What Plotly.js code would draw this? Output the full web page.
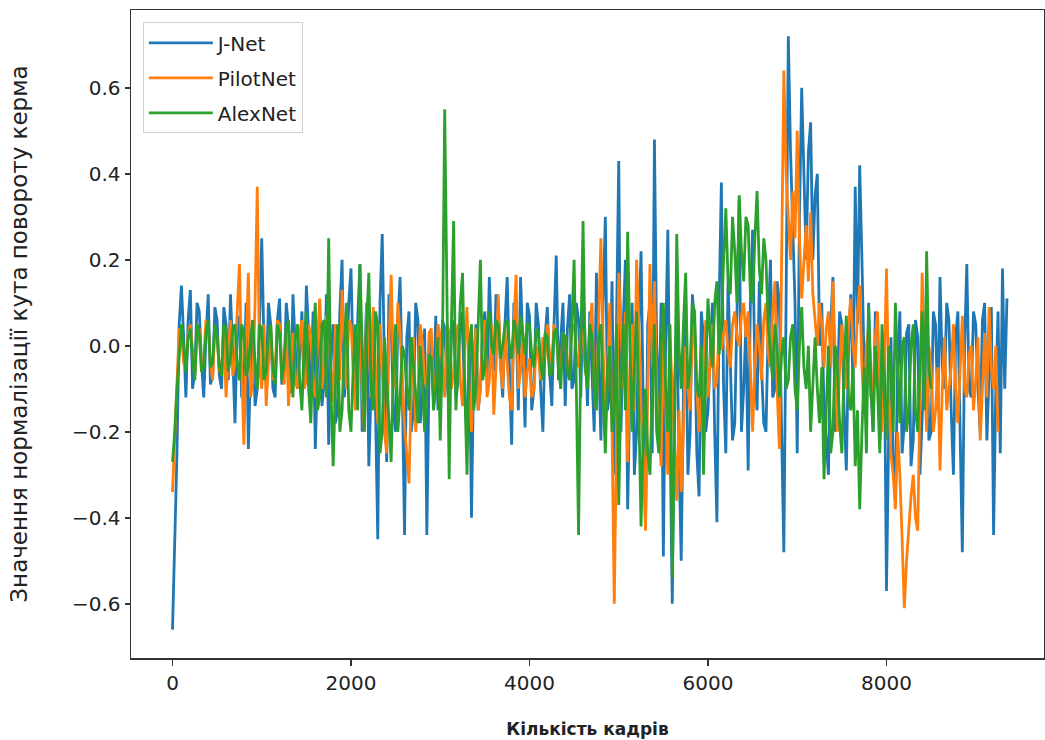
<!DOCTYPE html>
<html>
<head>
<meta charset="utf-8">
<script src="https://cdn.plot.ly/plotly-3.0.1.min.js"></script>
<style>html,body{margin:0;padding:0;background:#fff;}#chart{width:1045px;height:740px;}</style>
</head>
<body>
<div id="chart"></div>
<script>
// Samples every 50 frames, plus the in-between samples (offset 25 frames)
const STEP = 50;

const seriesNames = ["J-Net", "PilotNet", "AlexNet"];

const jnet = [
-0.66,-0.25,0.14,-0.12,0.13,-0.06,0.08,-0.12,0.12,-0.07,
0.06,-0.1,0.05,0.12,-0.18,0.07,-0.09,-0.24,0.06,-0.1,
0.25,-0.08,0.05,-0.12,0.11,-0.06,0.04,0.12,-0.1,0.08,
0.14,-0.12,-0.24,0.1,-0.08,-0.23,0.05,-0.15,0.2,-0.05,
0.18,-0.12,0.19,-0.05,-0.28,0.08,-0.45,0.26,-0.27,0.05,
-0.2,0.16,-0.44,0.08,-0.15,0.06,-0.12,-0.44,0.02,0.07,
-0.1,0.04,-0.14,0.06,-0.08,0.03,-0.2,-0.4,0.05,-0.1,
0.08,0.16,-0.06,0.1,-0.12,0.16,-0.23,0.06,0.16,-0.19,
0.07,-0.1,0.05,-0.2,0.09,-0.14,0.21,0.02,-0.14,0.12,
-0.08,0.06,0.14,-0.14,-0.05,0.17,-0.22,0.3,-0.1,-0.3,
0.43,0.05,-0.38,0.1,-0.2,0.22,-0.42,0.1,0.48,-0.15,
-0.49,0.27,-0.6,0.05,-0.5,0.1,-0.2,0.05,-0.35,0.02,
-0.15,0.1,-0.41,0.38,-0.25,-0.05,-0.18,0.34,-0.1,-0.29,
0.27,-0.15,-0.05,-0.2,0.2,-0.1,0.1,-0.48,0.72,0.3,
-0.25,0.6,0.2,0.52,0.35,0.0,-0.15,-0.3,0.16,-0.1,
0.05,-0.29,0.12,0.37,0.42,-0.05,0.1,-0.2,0.05,-0.15,
-0.57,0.02,-0.36,0.08,-0.18,0.05,-0.22,0.02,-0.15,0.1,
-0.2,0.05,0.16,-0.1,0.06,-0.3,0.08,-0.48,0.19,-0.12,
0.05,-0.2,0.1,-0.05,-0.44,0.08,0.18,0.11
];
const jnetMid = [
-0.45,0.05,0.02,0.06,-0.1,0.1,-0.04,0.02,-0.09,0.09,
-0.07,0.09,-0.08,-0.02,0.03,-0.12,0.1,-0.05,-0.14,0.05,
0.0,0.1,-0.1,0.06,-0.09,0.1,-0.11,0.0,-0.02,-0.1,
0.03,0.08,-0.05,-0.14,0.12,-0.02,-0.18,0.08,-0.12,0.1,
-0.05,0.06,-0.2,0.1,-0.1,-0.15,0.1,-0.05,0.12,-0.15,
0.05,-0.1,0.02,-0.2,0.1,-0.18,0.04,-0.05,-0.12,-0.15,
0.06,-0.08,0.05,-0.12,0.08,-0.12,0.02,-0.05,-0.15,0.04,
-0.08,0.02,0.12,-0.04,0.05,-0.05,0.1,-0.15,0.0,0.1,
-0.15,0.1,-0.1,0.02,-0.06,0.05,-0.08,0.1,0.04,-0.1,
0.1,-0.12,-0.02,0.08,-0.2,0.0,0.1,-0.15,0.15,0.05,
-0.2,0.2,-0.1,-0.3,0.05,-0.15,0.05,-0.25,0.0,0.1,
0.0,-0.2,-0.1,-0.25,-0.1,-0.3,0.12,-0.25,0.08,-0.2,
-0.02,-0.2,0.1,-0.1,0.15,-0.22,0.1,-0.2,0.05,0.1,
-0.05,0.15,-0.18,0.05,-0.12,0.15,-0.2,0.1,0.45,0.1,
0.3,0.4,0.45,0.2,0.4,0.1,-0.22,0.05,-0.2,0.08,
-0.15,0.0,-0.1,0.05,0.2,-0.15,-0.08,0.08,-0.22,0.03,
-0.2,-0.25,-0.05,-0.25,0.03,-0.28,0.06,-0.3,-0.05,-0.22,
0.08,-0.15,-0.05,0.1,-0.15,0.02,-0.2,0.0,-0.1,0.08,
-0.1,0.06,-0.22,0.09,-0.1,-0.25,-0.1
];

const pilotnet = [
-0.34,-0.06,0.03,-0.05,0.05,-0.07,0.04,-0.03,0.05,-0.08,
0.02,-0.05,-0.12,0.06,-0.04,0.19,-0.23,0.17,-0.08,0.37,
-0.1,-0.14,0.04,-0.06,0.05,-0.09,-0.14,0.03,-0.1,0.06,
-0.08,0.02,-0.12,0.11,-0.05,0.04,-0.13,0.02,0.13,-0.1,
0.05,-0.15,0.08,-0.2,0.02,0.09,-0.18,-0.05,-0.25,0.165,
-0.1,0.03,-0.19,-0.32,0.02,-0.12,0.01,-0.1,0.04,-0.08,
0.02,-0.12,0.03,-0.06,0.05,-0.14,0.09,-0.2,0.04,-0.1,
0.06,-0.08,-0.16,0.12,-0.1,-0.04,-0.15,0.165,-0.06,-0.12,
-0.03,-0.1,-0.02,0.02,0.05,-0.04,0.03,-0.06,0.02,-0.03,
0.05,-0.05,0.02,-0.08,0.1,-0.15,0.25,-0.2,0.1,-0.6,
0.17,-0.1,-0.27,0.05,0.2,-0.15,-0.43,0.19,0.15,-0.2,
0.05,-0.3,-0.1,-0.36,-0.34,0.0,-0.15,0.04,-0.2,-0.05,
-0.12,0.05,-0.08,-0.01,0.06,-0.05,0.08,0.0,0.1,0.08,
-0.2,0.05,-0.08,0.1,-0.05,0.15,-0.24,0.64,0.3,0.36,
0.5,0.11,0.28,0.31,0.05,0.1,-0.05,0.08,0.15,-0.2,
0.05,-0.1,0.11,-0.05,0.14,-0.15,0.04,-0.1,0.08,-0.2,
0.18,-0.25,-0.38,-0.3,-0.61,-0.42,-0.3,-0.43,0.17,-0.2,
-0.05,-0.15,-0.29,0.02,-0.1,0.05,-0.18,0.07,-0.12,0.0,
-0.08,-0.22,0.03,0.09,-0.1,-0.2
];
const pilotnetMid = [
-0.2,0.04,-0.04,0.03,-0.02,0.02,-0.06,0.06,-0.04,0.04,
-0.06,0.04,-0.02,-0.07,0.08,-0.05,0.0,-0.12,0.1,-0.05,
0.05,-0.04,-0.08,0.06,-0.05,0.04,-0.05,-0.08,0.03,-0.1,
0.05,-0.08,0.0,-0.1,0.07,-0.06,0.05,-0.08,0.0,0.06,
-0.05,0.02,-0.1,0.1,-0.12,-0.05,0.05,-0.2,0.0,-0.05,
0.1,-0.08,-0.25,-0.1,-0.2,0.05,-0.08,0.03,-0.12,0.05,
-0.05,0.05,-0.1,0.02,-0.08,0.0,-0.1,-0.05,-0.15,0.02,
-0.12,0.05,-0.05,-0.05,0.04,-0.12,0.05,-0.1,0.03,-0.06,
-0.12,0.0,-0.08,-0.03,-0.02,0.05,-0.05,0.03,-0.06,0.04,
-0.02,0.04,-0.06,0.04,-0.1,0.08,0.0,-0.05,-0.2,-0.2,
0.05,0.08,-0.05,-0.15,0.05,-0.25,-0.1,-0.05,-0.1,-0.28,
-0.12,0.02,-0.25,-0.15,-0.2,-0.1,0.05,-0.1,-0.12,0.06,
-0.04,-0.1,0.05,0.03,-0.02,0.05,0.02,0.07,0.02,-0.05,
-0.05,0.0,0.06,-0.02,0.08,-0.1,0.2,0.4,0.2,0.25,
0.25,0.2,0.15,0.12,0.0,0.05,0.04,-0.05,0.0,-0.05,
-0.05,0.05,0.0,0.08,-0.05,0.0,-0.12,0.02,-0.1,-0.05,
-0.1,-0.3,-0.2,-0.45,-0.5,-0.35,-0.4,-0.1,-0.05,0.0,
-0.2,-0.05,-0.1,-0.15,-0.05,-0.1,-0.05,-0.1,-0.02,-0.15,
0.02,-0.1,-0.12,-0.05,0.0
];

const alexnet = [
-0.27,-0.1,0.05,-0.06,0.04,-0.08,0.03,-0.05,0.06,-0.04,
0.02,-0.07,0.04,-0.03,0.05,-0.08,0.03,-0.05,0.06,-0.1,
0.04,-0.06,0.05,-0.09,0.03,-0.04,0.06,-0.12,0.05,-0.15,
0.08,-0.18,0.1,-0.12,0.06,0.25,-0.28,0.05,-0.15,0.1,
-0.2,0.05,0.19,-0.2,0.17,-0.15,0.05,-0.2,-0.08,-0.27,
0.05,-0.12,-0.02,-0.15,-0.05,-0.18,-0.08,-0.12,-0.03,-0.1,
-0.22,0.55,-0.31,0.29,-0.05,0.17,-0.3,0.05,-0.1,0.2,
-0.05,0.08,-0.02,0.05,0.0,0.06,-0.03,0.04,0.07,-0.02,
0.05,-0.05,0.03,-0.08,0.02,-0.06,0.04,-0.1,0.02,-0.08,
0.2,-0.44,0.29,-0.1,0.02,-0.15,0.05,-0.25,0.0,-0.15,
-0.37,0.05,0.265,-0.2,0.08,-0.42,-0.1,-0.3,0.05,-0.25,
0.1,-0.2,-0.54,0.26,-0.1,0.17,-0.05,0.08,-0.12,-0.3,
0.11,-0.05,0.15,0.05,0.32,0.12,0.22,0.35,0.15,0.28,
0.1,0.36,0.12,0.2,-0.02,0.05,-0.12,0.02,-0.08,0.05,
-0.15,0.09,-0.1,-0.2,0.02,-0.18,-0.31,0.0,-0.2,-0.05,
-0.25,0.07,-0.15,-0.28,-0.38,-0.05,0.09,-0.2,-0.1,0.05,
-0.22,-0.05,0.1,-0.18,0.02,-0.15,0.05,-0.2,0.08,0.22,
-0.1
];
const alexnetMid = [
-0.2,-0.03,0.0,0.02,-0.03,0.05,-0.06,0.03,-0.05,0.05,
-0.05,0.05,-0.06,0.04,-0.04,0.05,-0.07,0.02,-0.04,0.05,
-0.08,0.03,-0.05,0.05,-0.08,0.04,-0.05,0.02,-0.08,0.0,
-0.1,0.0,-0.15,0.05,-0.12,-0.1,-0.1,-0.2,0.0,-0.15,
-0.05,-0.15,0.0,0.05,-0.1,0.08,-0.25,0.02,-0.18,-0.05,
-0.2,0.0,-0.1,0.02,-0.12,0.0,-0.2,-0.02,-0.15,0.02,
0.0,0.1,0.05,-0.15,0.1,-0.1,0.0,-0.15,0.05,-0.08,
0.05,0.0,0.06,-0.03,0.05,0.0,0.06,-0.02,0.03,0.05,
-0.02,0.04,-0.04,0.03,-0.07,0.03,-0.05,0.03,-0.06,0.05,
-0.1,0.0,-0.05,0.05,-0.1,0.02,-0.12,-0.05,-0.2,0.05,
-0.1,-0.15,0.0,-0.05,-0.15,-0.2,-0.25,-0.1,-0.2,0.0,
-0.1,0.05,-0.2,0.0,0.05,-0.1,0.1,-0.1,0.0,-0.05,
0.02,0.1,-0.02,0.2,0.15,0.3,0.1,0.22,0.3,0.12,
0.25,0.18,0.25,0.05,-0.08,0.0,-0.02,-0.1,0.02,-0.1,
0.0,-0.05,0.0,-0.08,-0.1,-0.05,-0.15,-0.25,0.0,-0.18,
-0.05,-0.12,-0.05,-0.15,-0.2,-0.25,-0.1,0.0,-0.25,-0.12,
0.0,-0.2,-0.05,0.0,-0.2,0.0,-0.15,-0.05,-0.15,-0.05
];

const xTickVals = [0, 2000, 4000, 6000, 8000];
const yTickVals = [-0.6, -0.4, -0.2, 0.0, 0.2, 0.4, 0.6];

const colors = ["#1f77b4", "#ff7f0e", "#2ca02c"];
const mainSeries = [jnet, pilotnet, alexnet];
const midSeries = [jnetMid, pilotnetMid, alexnetMid];

function merge(main, mid) {
  const xs = [], ys = [];
  for (let i = 0; i < main.length; i++) {
    xs.push(i * STEP); ys.push(main[i]);
    if (i < mid.length) { xs.push(i * STEP + STEP / 2); ys.push(mid[i]); }
  }
  return {xs, ys};
}

const traces = mainSeries.map((vals, k) => {
  const m = merge(vals, midSeries[k]);
  return {
    type: "scatter",
    mode: "lines",
    name: seriesNames[k],
    legendgroup: seriesNames[k],
    x: m.xs,
    y: m.ys,
    line: {color: colors[k], width: 2.8}
  };
});

const fam = "DejaVu Sans, sans-serif";
const axisFont = {family: fam, size: 20, color: "#222"};

const layout = {
  width: 1045, height: 740,
  margin: {l: 131, r: 1, t: 10, b: 82},
  paper_bgcolor: "#fff", plot_bgcolor: "#fff",
  showlegend: true,
  legend: {
    x: 0.013, y: 0.981, xanchor: "left", yanchor: "top",
    bgcolor: "rgba(255,255,255,0.85)", bordercolor: "#d0d0d0", borderwidth: 1,
    font: {family: fam, size: 20, color: "#222"},
    itemwidth: 64,
    traceorder: "grouped", tracegroupgap: 6
  },
  xaxis: {
    range: [-465, 9765],
    tickvals: xTickVals, tickformat: "d",
    ticks: "outside", ticklen: 6, tickwidth: 1.5, tickcolor: "#333",
    showline: true, linecolor: "#333", linewidth: 1.5, mirror: true,
    showgrid: false, zeroline: false,
    tickfont: axisFont,
    title: {text: "<b>Кількість кадрів</b>", font: {family: fam, size: 17, color: "#222"}, standoff: 29}
  },
  yaxis: {
    range: [-0.726, 0.781],
    tickvals: yTickVals, tickformat: ".1f",
    ticks: "outside", ticklen: 5, tickwidth: 1.5, tickcolor: "#333",
    showline: true, linecolor: "#333", linewidth: 1.5, mirror: true,
    showgrid: false, zeroline: false,
    tickfont: axisFont,
    title: {text: "Значення нормалізації кута повороту керма", font: {family: fam, size: 23, color: "#222"}, standoff: 38}
  }
};

Plotly.newPlot("chart", traces, layout, {displayModeBar: false, staticPlot: true});
</script>
</body>
</html>
